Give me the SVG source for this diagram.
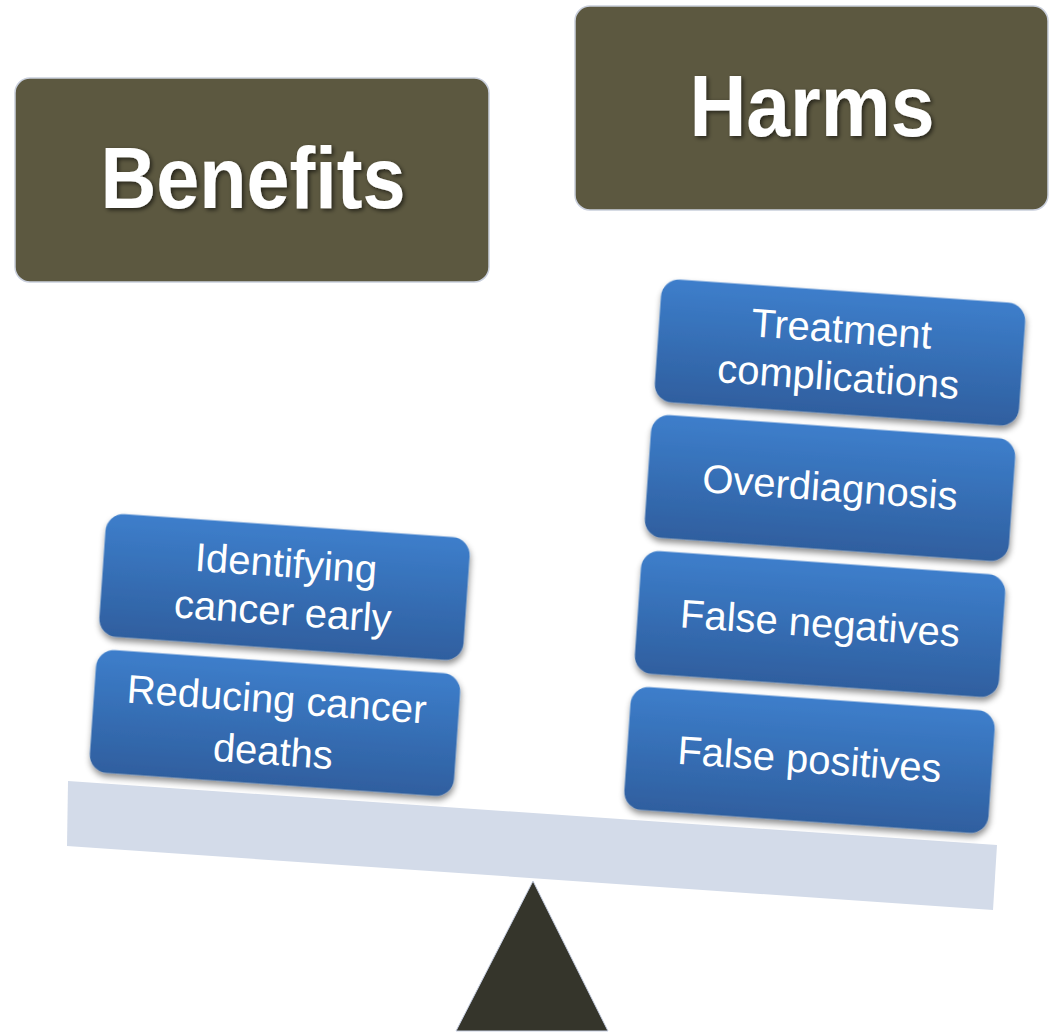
<svg xmlns="http://www.w3.org/2000/svg" width="1052" height="1033" viewBox="0 0 1052 1033">
  <defs>
    <linearGradient id="blueFill" x1="0" y1="0" x2="0" y2="1">
      <stop offset="0" stop-color="#3D7ECB"/>
      <stop offset="1" stop-color="#2F5F9F"/>
    </linearGradient>
    <filter id="boxShadow" x="-10%" y="-15%" width="120%" height="140%">
      <feDropShadow dx="1" dy="4" stdDeviation="3" flood-color="#000" flood-opacity="0.45"/>
    </filter>
    <filter id="textShadow" x="-10%" y="-20%" width="120%" height="140%">
      <feDropShadow dx="2" dy="2" stdDeviation="2" flood-color="#000" flood-opacity="0.6"/>
    </filter>
  </defs>
  <style>
    .header rect { fill: #5C5840; stroke: #C9CFDC; stroke-width: 1.5; }
    .header text { font-family: "Liberation Sans", Arial, sans-serif; font-weight: bold; font-size: 88px; fill: #FFFFFF; text-anchor: middle; }
    .item rect { fill: url(#blueFill); }
    .item text { font-family: "Liberation Sans", Arial, sans-serif; font-size: 40px; fill: #FFFFFF; text-anchor: middle; }
  </style>

  <rect width="1052" height="1033" fill="#FFFFFF"/>

  <!-- Scale beam and fulcrum -->
  <g id="beam">
    <polygon points="68,781 997,845 993,910 67,846" fill="#D3DBE9"/>
  </g>
  <g id="fulcrum">
    <polygon points="533,881 608,1031 456,1031" fill="#35352B" stroke="#C5CDE0" stroke-width="1"/>
  </g>

  <!-- Column headers -->
  <g id="benefits" class="header">
    <rect x="15" y="78" width="474" height="204" rx="15"/>
    <text x="253" y="208" textLength="305" lengthAdjust="spacingAndGlyphs" filter="url(#textShadow)">Benefits</text>
  </g>
  <g id="harms" class="header">
    <rect x="575" y="6" width="473" height="204" rx="15"/>
    <text x="812" y="136" textLength="245" lengthAdjust="spacingAndGlyphs" filter="url(#textShadow)">Harms</text>
  </g>

  <!-- Benefit items -->
  <g id="identifying" class="item" transform="translate(284.5,587) rotate(4)">
    <rect x="-182.5" y="-61.5" width="365" height="123" rx="18" filter="url(#boxShadow)"/>
    <text x="0" y="-10">Identifying</text>
    <text x="0" y="38">cancer early</text>
  </g>
  <g id="reducing" class="item" transform="translate(275,723) rotate(4)">
    <rect x="-182.5" y="-61.5" width="365" height="123" rx="18" filter="url(#boxShadow)"/>
    <text x="0" y="-10">Reducing cancer</text>
    <text x="0" y="42">deaths</text>
  </g>

  <!-- Harm items -->
  <g id="treatment" class="item" transform="translate(840,352.5) rotate(4)">
    <rect x="-182.5" y="-61.5" width="365" height="123" rx="18" filter="url(#boxShadow)"/>
    <text x="0" y="-10">Treatment</text>
    <text x="0" y="38">complications</text>
  </g>
  <g id="overdiagnosis" class="item" transform="translate(830,488) rotate(4)">
    <rect x="-182.5" y="-61.5" width="365" height="123" rx="18" filter="url(#boxShadow)"/>
    <text x="0" y="13">Overdiagnosis</text>
  </g>
  <g id="false-negatives" class="item" transform="translate(820,624) rotate(4)">
    <rect x="-182.5" y="-61.5" width="365" height="123" rx="18" filter="url(#boxShadow)"/>
    <text x="0" y="13">False negatives</text>
  </g>
  <g id="false-positives" class="item" transform="translate(809.5,760) rotate(4)">
    <rect x="-182.5" y="-61.5" width="365" height="123" rx="18" filter="url(#boxShadow)"/>
    <text x="0" y="13">False positives</text>
  </g>
</svg>
